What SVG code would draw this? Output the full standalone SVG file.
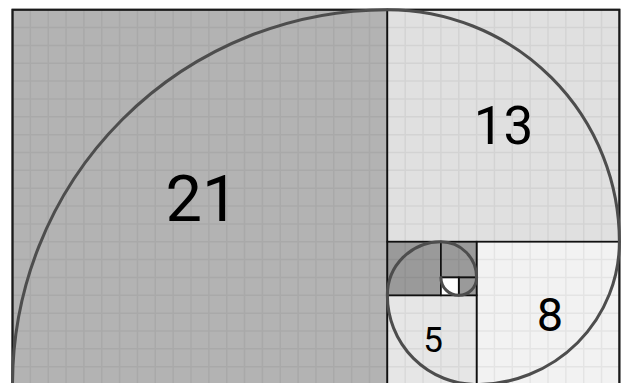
<svg xmlns="http://www.w3.org/2000/svg" width="622" height="383" viewBox="0 0 622 383">
<style>
.sq{stroke:#111;stroke-width:0.095}
.lbl{font-family:Roboto,"Liberation Sans",sans-serif;fill:#000;text-anchor:middle}
.grid{fill:none;stroke:#000;stroke-opacity:0.055;stroke-width:0.085}
.spiral{fill:none;stroke:#4d4d4d;stroke-width:0.17;stroke-linecap:round}
</style>
<rect width="622" height="383" fill="#fff"/>
<g transform="translate(12.5 9.7) scale(17.85)">
<g id="sq21"><rect class="sq" x="0" y="0" width="21" height="21" fill="#b3b3b3"/></g>
<g id="sq13"><rect class="sq" x="21" y="0" width="13" height="13" fill="#e0e0e0"/></g>
<g id="sq8"><rect class="sq" x="26" y="13" width="8" height="8" fill="#f2f2f2"/></g>
<g id="sq5"><rect class="sq" x="21" y="16" width="5" height="5" fill="#e6e6e6"/></g>
<g id="sq3"><rect class="sq" x="21" y="13" width="3" height="3" fill="#9a9a9a"/></g>
<g id="sq2"><rect class="sq" x="24" y="13" width="2" height="2" fill="#9a9a9a"/></g>
<g id="sq1a"><rect class="sq" x="25" y="15" width="1" height="1" fill="#9a9a9a"/></g>
<g id="sq1b"><rect class="sq" x="24" y="15" width="1" height="1" fill="#ffffff"/></g>
<path class="grid" d="M1 0V21M2 0V21M3 0V21M4 0V21M5 0V21M6 0V21M7 0V21M8 0V21M9 0V21M10 0V21M11 0V21M12 0V21M13 0V21M14 0V21M15 0V21M16 0V21M17 0V21M18 0V21M19 0V21M20 0V21M21 0V21M22 0V21M23 0V21M24 0V21M25 0V21M26 0V21M27 0V21M28 0V21M29 0V21M30 0V21M31 0V21M32 0V21M33 0V21M0 1H34M0 2H34M0 3H34M0 4H34M0 5H34M0 6H34M0 7H34M0 8H34M0 9H34M0 10H34M0 11H34M0 12H34M0 13H34M0 14H34M0 15H34M0 16H34M0 17H34M0 18H34M0 19H34M0 20H34"/>
<rect x="0" y="0" width="34" height="21" fill="none" stroke="#1a1a1a" stroke-width="0.11"/>
<g id="connectors">
<path class="spiral" d="M0 21A21 21 0 0 1 21 0A13 13 0 0 1 34 13A8 8 0 0 1 26 21A5 5 0 0 1 21 16A3 3 0 0 1 24 13A2 2 0 0 1 26 15A1 1 0 0 1 25 16A1 1 0 0 1 24 15"/>
</g>
</g>
<text class="lbl" x="202" y="221" font-size="65">21</text>
<text class="lbl" x="503.5" y="144" font-size="53">13</text>
<text class="lbl" x="550" y="331" font-size="47">8</text>
<text class="lbl" x="433" y="352.3" font-size="35">5</text>
</svg>
